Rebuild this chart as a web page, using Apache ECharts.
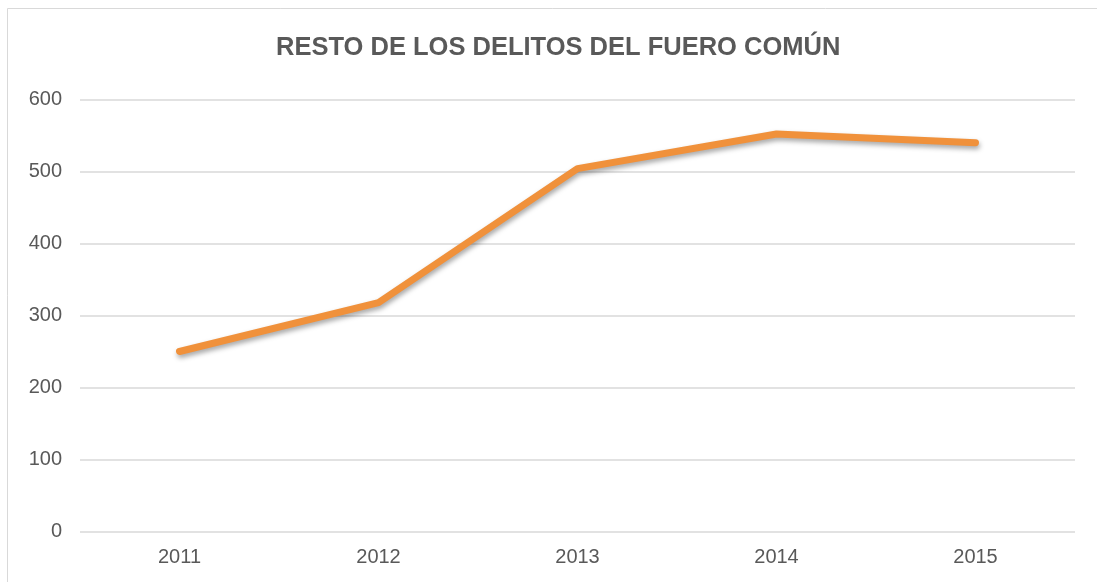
<!DOCTYPE html>
<html>
<head>
<meta charset="utf-8">
<script src="https://cdn.jsdelivr.net/npm/echarts@6/dist/echarts.min.js"></script>
<style>
html, body { margin: 0; padding: 0; background: #fff; }
#chart { width: 1097px; height: 582px; }
</style>
</head>
<body>
<div id="chart"></div>
<script>
// Annual counts of the remaining common-jurisdiction offences
const years = ['2011', '2012', '2013', '2014', '2015'];
const counts = [250, 318, 504, 552, 540];
const yTicks = [0, 100, 200, 300, 400, 500, 600];

const FONT = 'Liberation Sans, Arial, sans-serif';

const chart = echarts.init(document.getElementById('chart'));
chart.setOption({
  animation: false,
  backgroundColor: '#ffffff',
  title: {
    text: 'RESTO DE LOS DELITOS DEL FUERO COMÚN',
    left: 271,
    top: 30,
    textStyle: {
      fontFamily: FONT,
      fontSize: 25.5,
      fontWeight: 'bold',
      color: '#595959'
    }
  },
  graphic: [{
    type: 'rect',
    shape: { x: 7.5, y: 8.5, width: 1200, height: 700 },
    style: { fill: 'none', stroke: '#d9d9d9', lineWidth: 1 },
    silent: true
  }],
  grid: { left: 80, right: 22, top: 99.5, bottom: 50.5 },
  xAxis: {
    type: 'category',
    data: years,
    boundaryGap: true,
    axisLine: { show: false },
    axisTick: { show: false },
    axisLabel: {
      margin: 16,
      fontFamily: FONT,
      fontSize: 20,
      color: '#595959'
    }
  },
  yAxis: {
    type: 'value',
    min: yTicks[0],
    max: yTicks[yTicks.length - 1],
    interval: 100,
    axisLine: { show: false },
    axisTick: { show: false },
    splitLine: { lineStyle: { color: '#d9d9d9', width: 1.5 } },
    axisLabel: {
      margin: 18,
      fontFamily: FONT,
      fontSize: 20,
      color: '#595959'
    }
  },
  series: [{
    type: 'line',
    data: counts,
    symbol: 'none',
    lineStyle: {
      color: '#F0913B',
      width: 7,
      cap: 'round',
      join: 'round',
      shadowColor: 'rgba(0,0,0,0.35)',
      shadowBlur: 5,
      shadowOffsetX: 1,
      shadowOffsetY: 3
    }
  }]
});
</script>
</body>
</html>
